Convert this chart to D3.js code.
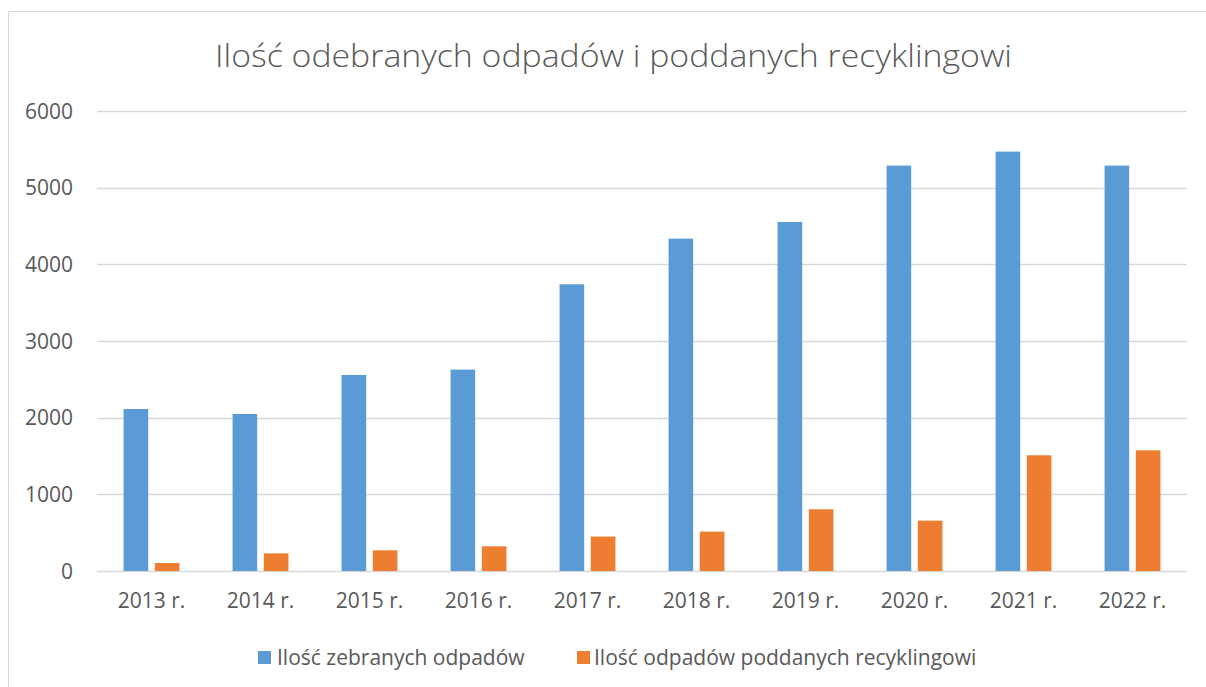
<!DOCTYPE html>
<html>
<head>
<meta charset="utf-8">
<script src="https://cdn.jsdelivr.net/npm/d3@7"></script>
<style>
  html, body { margin: 0; padding: 0; background: #fff; }
  svg { display: block; }
  text { font-family: "Open Sans", "Lato", sans-serif; fill: #595959; }
</style>
</head>
<body>
<svg id="chart" width="1206" height="687"></svg>
<script>
const categories = ["2013 r.", "2014 r.", "2015 r.", "2016 r.", "2017 r.", "2018 r.", "2019 r.", "2020 r.", "2021 r.", "2022 r."];
const collected = [2113, 2048, 2557, 2627, 3740, 4335, 4552, 5288, 5470, 5288];
const recycled = [104, 230, 270, 322, 449, 514, 805, 657, 1509, 1574];
const seriesNames = ["Ilość zebranych odpadów", "Ilość odpadów poddanych recyklingowi"];
const seriesColors = ["#5B9BD5", "#ED7D31"];
const yTicks = [0, 1000, 2000, 3000, 4000, 5000, 6000];
const title = "Ilość odebranych odpadów i poddanych recyklingowi";

const svg = d3.select("#chart");
const M = { left: 97, right: 1187, top: 111, bottom: 571 };

// chart frame
svg.append("path")
  .attr("d", `M8.5,687 L8.5,11.5 L1206,11.5`)
  .attr("fill", "none").attr("stroke", "#D9D9D9").attr("stroke-width", 1);

const x = d3.scaleBand().domain(categories).range([M.left, M.right]).padding(0);
const x1 = d3.scaleBand().domain(seriesNames).range([0, x.bandwidth()])
  .paddingInner(0.212).paddingOuter(0.85);
const y = d3.scaleLinear().domain([0, 6000]).range([M.bottom, M.top]);

// gridlines
svg.append("g").selectAll("line").data(yTicks).join("line")
  .attr("x1", M.left).attr("x2", M.right)
  .attr("y1", d => Math.round(y(d)) + 0.5).attr("y2", d => Math.round(y(d)) + 0.5)
  .attr("stroke", "#D9D9D9").attr("stroke-width", 1.3);

// y labels
svg.append("g").selectAll("text").data(yTicks).join("text")
  .attr("x", 73).attr("y", d => y(d)).attr("dy", "0.36em")
  .attr("text-anchor", "end").attr("font-size", 21)
  .text(d => d);

// bars
const data = categories.map((c, i) => ({ c, vals: [collected[i], recycled[i]] }));
const groups = svg.append("g").selectAll("g").data(data).join("g")
  .attr("transform", d => `translate(${x(d.c)},0)`);
groups.selectAll("rect").data(d => d.vals.map((v, j) => ({ v, s: seriesNames[j], j }))).join("rect")
  .attr("x", d => x1(d.s)).attr("width", x1.bandwidth())
  .attr("y", d => y(d.v)).attr("height", d => y(0) - y(d.v))
  .attr("fill", d => seriesColors[d.j]);

// x labels
svg.append("g").selectAll("text").data(categories).join("text")
  .attr("x", d => x(d) + x.bandwidth() / 2).attr("y", 608)
  .attr("text-anchor", "middle").attr("font-size", 21)
  .text(d => d);

// title
svg.append("text")
  .attr("x", 215).attr("y", 67)
  .attr("font-size", 32).attr("font-weight", 300)
  .attr("textLength", 797).attr("lengthAdjust", "spacingAndGlyphs")
  .text(title);

// legend
const legendItems = [
  { sq: 258, tx: 277, name: seriesNames[0], color: seriesColors[0] },
  { sq: 577, tx: 594, name: seriesNames[1], color: seriesColors[1] }
];
const lg = svg.append("g");
legendItems.forEach(it => {
  lg.append("rect").attr("x", it.sq).attr("y", 651).attr("width", 13).attr("height", 13).attr("fill", it.color);
  lg.append("text").attr("x", it.tx).attr("y", 665).attr("font-size", 21).text(it.name);
});
</script>
</body>
</html>
